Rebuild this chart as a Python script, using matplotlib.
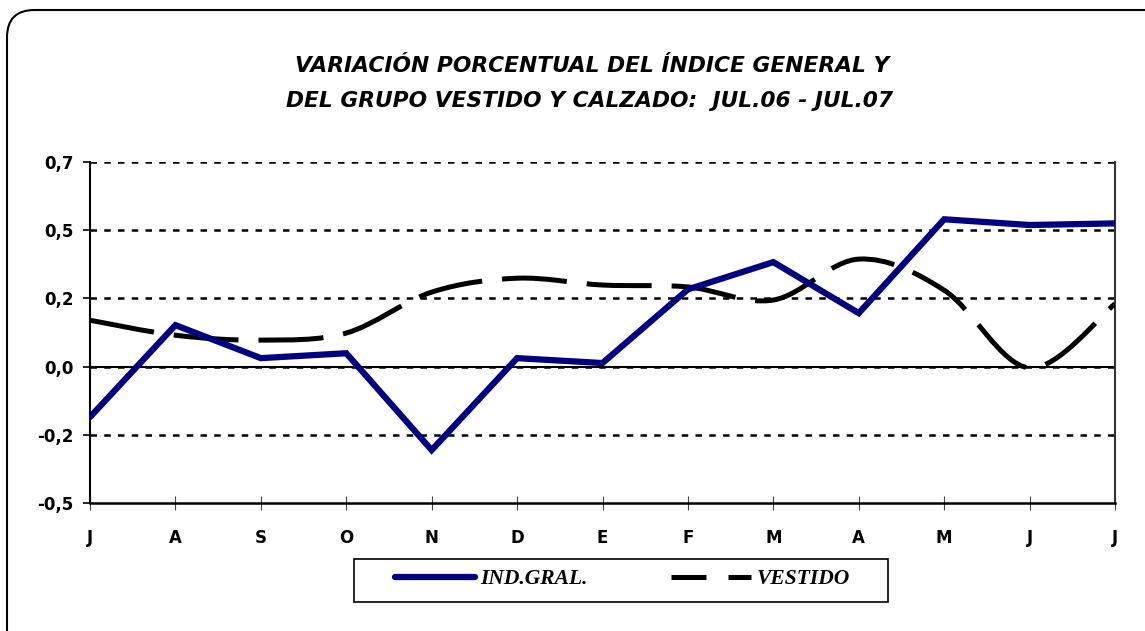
import matplotlib
matplotlib.use("Agg")
import matplotlib.pyplot as plt
import numpy as np
from matplotlib.path import Path
from matplotlib.patches import PathPatch, FancyBboxPatch, Rectangle
from matplotlib.lines import Line2D

# ── data ─────────────────────────────────────────────
months = ["J", "A", "S", "O", "N", "D", "E", "F", "M", "A", "M", "J", "J"]
ind_gral = [-0.185, 0.152, 0.031, 0.049, -0.306, 0.031, 0.013, 0.283, 0.383, 0.196, 0.540, 0.519, 0.525]
vestido = [0.170, 0.115, 0.097, 0.123, 0.273, 0.324, 0.299, 0.292, 0.244, 0.394, 0.280, -0.005, 0.230]
y_ticks = [-0.5, -0.25, 0.0, 0.25, 0.5, 0.75]
y_tick_labels = ["-0,5", "-0,2", "0,0", "0,2", "0,5", "0,7"]
series_names = ["IND.GRAL.", "VESTIDO"]

NAVY = "#000080"
W, H = 1145, 631


def fx(px):
    return px / W


def fy(py):
    return 1 - py / H


fig = plt.figure(figsize=(W / 100, H / 100), dpi=100)
ax = fig.add_axes([fx(90), fy(503), 1025 / W, 341 / H])

x = np.arange(len(months))

# grid (dotted) and zero line
for yv in y_ticks[1:]:
    ax.axhline(yv, color="black", lw=1.8, ls=(0, (2.6, 2.9)), zorder=1)
ax.axhline(0, color="black", lw=1.5, zorder=1)

# smoothed VESTIDO line (Excel-style bezier through the points)
pts = np.column_stack([x, vestido]).astype(float)
n = len(pts)
verts = [pts[0]]
codes = [Path.MOVETO]
for i in range(n - 1):
    p0 = pts[i - 1] if i > 0 else pts[i]
    p1, p2 = pts[i], pts[i + 1]
    p3 = pts[i + 2] if i + 2 < n else pts[i + 1]
    verts += [p1 + (p2 - p0) / 6, p2 - (p3 - p1) / 6, p2]
    codes += [Path.CURVE4] * 3
ax.add_patch(PathPatch(Path(verts, codes), fill=False, color="black",
                       lw=3.6, ls=(0, (13, 4)), capstyle="butt", zorder=3))

ax.plot(x, ind_gral, color=NAVY, lw=4.5, solid_joinstyle="miter", zorder=4,
        solid_capstyle="round")

ax.set_xlim(0, len(months) - 1)
ax.set_ylim(-0.5, 0.75)
ax.set_xticks(x)
ax.set_xticklabels(months)
ax.set_yticks(y_ticks)
ax.set_yticklabels(y_tick_labels)

for lab in ax.get_xticklabels() + ax.get_yticklabels():
    lab.set_fontfamily("DejaVu Sans")
    lab.set_fontweight("bold")
    lab.set_fontsize(12)
ax.tick_params(axis="x", direction="inout", length=10, width=0.8, pad=14, color="#444444")
ax.tick_params(axis="y", direction="out", length=5, width=1.2, pad=7)

ax.spines["top"].set_visible(False)
ax.spines["left"].set_linewidth(1.5)
ax.spines["bottom"].set_linewidth(1.8)
ax.spines["right"].set_linewidth(1.5)
ax.spines["right"].set_color("#333333")

# title
title_kw = dict(ha="center", va="center", fontsize=15.7, fontweight="bold",
                fontstyle="italic", family="DejaVu Sans")
fig.text(fx(592), fy(66), "VARIACIÓN PORCENTUAL DEL ÍNDICE GENERAL Y", **title_kw)
fig.text(fx(590), fy(101), "DEL GRUPO VESTIDO Y CALZADO:  JUL.06 - JUL.07", **title_kw)

# legend box (drawn by hand to match the wide padding of the original)
fig.patches.append(Rectangle((fx(354), fy(602)), 534 / W, 43 / H,
                             transform=fig.transFigure, fill=False,
                             edgecolor="black", lw=1.2))
fig.lines.append(Line2D([fx(395), fx(475)], [fy(577), fy(577)],
                        transform=fig.transFigure, color=NAVY, lw=4.5,
                        solid_capstyle="round"))
fig.lines.append(Line2D([fx(671), fx(751)], [fy(577), fy(577)],
                        transform=fig.transFigure, color="black", lw=3.6,
                        ls=(0, (7, 4.4)), dash_capstyle="butt"))
leg_kw = dict(ha="left", va="center", fontsize=15.5, family="Liberation Serif",
              fontweight="bold", fontstyle="italic")
fig.text(fx(480), fy(579), series_names[0], **leg_kw)
fig.text(fx(757), fy(579), series_names[1], **leg_kw)

# outer rounded frame (runs off the right and bottom edges)
frame = FancyBboxPatch((fx(7), fy(700)), 1300 / W, 690 / H,
                       boxstyle="round,pad=0,rounding_size=0.024",
                       transform=fig.transFigure, fill=False,
                       edgecolor="black", lw=1.5, mutation_aspect=W / H)
fig.patches.append(frame)

fig.savefig("out.png", dpi=100)
